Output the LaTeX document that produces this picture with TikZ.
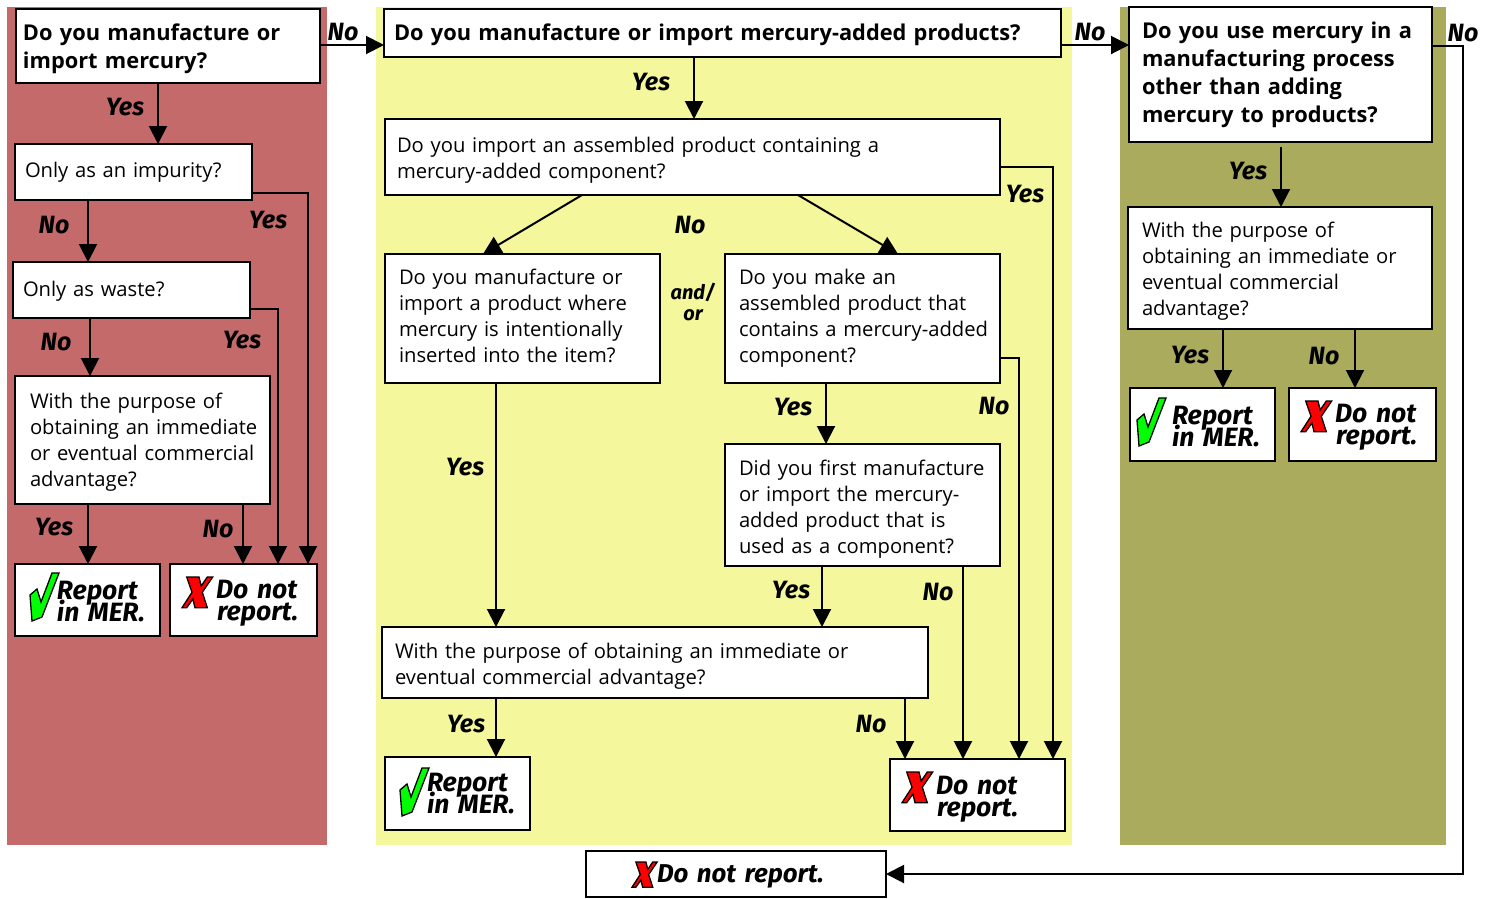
\documentclass[tikz,border=0pt]{standalone}
\usepackage{fontspec}
\usetikzlibrary{arrows.meta}
\setmainfont{Open Sans}
\newfontfamily\lblfont{Fira Sans}
\definecolor{redbg}{HTML}{C46A6A}
\definecolor{yelbg}{HTML}{F4F79B}
\definecolor{olvbg}{HTML}{ABAB5E}
\tikzset{
  x=1pt,y=-1pt,
  every node/.style={outer sep=0pt,inner ysep=0pt},
  boxn/.style={draw=black,line width=2.2pt,fill=white,align=left,font=\fontsize{20.2}{26}\selectfont\hyphenpenalty 10000\relax},
  head/.style={font=\fontsize{21.8}{28}\selectfont\bfseries\hyphenpenalty 10000\relax},
  rep/.style={font=\fontsize{26.5}{22}\lblfont\bfseries\itshape\lineskiplimit -100pt\relax},
  lbl/.style={font=\fontsize{25}{20}\lblfont\bfseries\itshape,align=center,inner sep=0pt,yshift=-1pt},
  arr/.style={line width=2pt,-{Triangle[width=18pt,length=18pt]}},
  xmark/.pic={\draw[fill=red,line width=1.3pt,line join=miter,draw=black]
    (4.7,0)--(17,0)--(19.2,9)--(25.3,0)--(30.7,0)--(20.3,15.3)--(25.3,30.7)--(13,30.7)--(10.9,22)--(4.7,30.7)--(0,30.7)--(10,15.3)--cycle;},
  cmark/.pic={\draw[fill=green,line width=1.3pt,draw=black]
    (15,31)--(22,25)--(26,38)--(37,9)--(44,9)--(27,53)--(17,57)--cycle;},
}
\newcommand{\bx}[8]{\node[boxn,#7,minimum width={(#4-#2)*1pt},minimum height={(#5-#3)*1pt},
  text width={(#4-#2)*1pt},inner xsep=0pt] (#1) at ({(#2+#4)/2},{(#3+#5)/2}) {\leftskip #6pt\relax #8\par};}
\newcommand{\upk}[1]{\par\kern #1pt\relax}
\newcommand{\rptxt}{\hspace*{42pt}Report\\\hspace*{42pt}in MER.}
\newcommand{\dntxt}{\hspace*{46pt}Do not\\\hspace*{47pt}report.}
\begin{document}
\begin{tikzpicture}
\useasboundingbox (0,0) rectangle (1489,898);
\fill[redbg] (7,7) rectangle (327,845);
\fill[yelbg] (376,7) rectangle (1072,845);
\fill[olvbg] (1120,7) rectangle (1446,845);
\foreach \v in {88,90,158,243,278,308,483,496,582,694,798,826,822,898,905,963,1019,1053,1223,1281,1355,1463}
  \coordinate (x\v) at (\v,0);
\foreach \v in {45,46,147,167,193,309,358,874}
  \coordinate (y\v) at (0,\v);
% left column
\bx{a1}{16}{9}{320}{83}{7}{head}{Do you manufacture or\\import mercury?\upk{-6}}
\bx{a2}{15}{144}{252}{200}{10}{}{Only as an impurity?}
\bx{a3}{13}{262}{250}{318}{10}{}{Only as waste?\upk{-2}}
\bx{a4}{15}{376}{270}{504}{15}{}{With the purpose of\\obtaining an immediate\\or eventual commercial\\advantage?\upk{-4}}
\bx{a5}{15}{564}{160}{636}{0}{rep}{\rptxt\upk{-4}}
\bx{a6}{170}{564}{317}{636}{0}{rep}{\dntxt\upk{-6}}
% middle column
\bx{b1}{384}{9}{1061}{57}{10}{head}{Do you manufacture or import mercury-added products?\upk{-4}}
\bx{b2}{385}{119}{1000}{195}{12}{}{Do you import an assembled product containing a\\mercury-added component?\upk{-6}}
\bx{b3}{385}{254}{660}{383}{14}{}{Do you manufacture or\\import a product where\\mercury is intentionally\\inserted into the item?\upk{6}}
\bx{b4}{725}{254}{1000}{383}{14}{}{Do you make an\\assembled product that\\contains a mercury-added\\component?}
\bx{b5}{725}{444}{1000}{566}{14}{}{Did you first manufacture\\or import the mercury-\\added product that is\\used as a component?\upk{-8}}
\bx{b6}{382}{627}{928}{698}{13}{}{With the purpose of obtaining an immediate or\\eventual commercial advantage?\upk{-8}}
\bx{b7}{385}{757}{530}{830}{0}{rep}{\rptxt}
\bx{b8}{890}{759}{1065}{831}{0}{rep}{\dntxt\upk{-8}}
% right column
\bx{c1}{1129}{7}{1432}{142}{13}{head}{Do you use mercury in a\\manufacturing process\\other than adding\\mercury to products?}
\bx{c2}{1128}{207}{1432}{329}{14}{}{With the purpose of\\obtaining an immediate or\\eventual commercial\\advantage?\upk{-6}}
\bx{c3}{1130}{388}{1275}{461}{0}{rep}{\rptxt\upk{-4}}
\bx{c4}{1289}{388}{1436}{461}{0}{rep}{\dntxt\upk{-6}}
\bx{d}{586}{851}{886}{897}{0}{rep,font=\fontsize{25.8}{22}\lblfont\bfseries\itshape}{\hspace*{71pt}Do not report.\upk{-4}}
% marks
\pic at (15,564) {cmark};
\pic at (385,759) {cmark};
\pic at (1122,389) {cmark};
\pic at (182,577) {xmark};
\pic at (902,772) {xmark};
\pic at (1301,401) {xmark};
\pic[scale=.82] at (632,862) {xmark};
% connectors
\draw[arr] (a1.south-|x158) -- (a2.north-|x158);
\draw[arr] (a2.south-|x88) -- (a3.north-|x88);
\draw[arr] (a3.south-|x90) -- (a4.north-|x90);
\draw[arr] (a4.south-|x88) -- (a5.north-|x88);
\draw[arr] (a4.south-|x243) -- (a6.north-|x243);
\draw[arr] (a3.east|-y309) -| (a6.north-|x278);
\draw[arr] (a2.east|-y193) -| (a6.north-|x308);
\draw[arr] (a1.east|-y45) -- (b1.west|-y45);
\draw[arr] (b1.east|-y45) -- (c1.west|-y45);
\draw[arr] (b1.south-|x694) -- (b2.north-|x694);
\draw[arr] (b2.south-|x582) -- (b3.north-|x483);
\draw[arr] (b2.south-|x798) -- (b4.north-|x898);
\draw[arr] (b2.east|-y167) -| (b8.north-|x1053);
\draw[arr] (b3.south-|x496) -- (b6.north-|x496);
\draw[arr] (b4.south-|x826) -- (b5.north-|x826);
\draw[arr] (b4.east|-y358) -| (b8.north-|x1019);
\draw[arr] (b5.south-|x822) -- (b6.north-|x822);
\draw[arr] (b5.south-|x963) -- (b8.north-|x963);
\draw[arr] (b6.south-|x496) -- (b7.north-|x496);
\draw[arr] (b6.south-|x905) -- (b8.north-|x905);
\draw[arr] (x1281|-y147) -- (c2.north-|x1281);
\draw[arr] (c2.south-|x1223) -- (c3.north-|x1223);
\draw[arr] (c2.south-|x1355) -- (c4.north-|x1355);
\draw[arr] (c1.east|-y46) -- (x1463|-y46) -- (x1463|-y874) -- (d.east|-y874);
% labels
\node[lbl] (l1) at (125,106) {Yes};
\node[lbl] (l2) at (54,224) {No};
\node[lbl] (l3) at (268,219) {Yes};
\node[lbl] (l4) at (242,339) {Yes};
\node[lbl] (l5) at (56,341) {No};
\node[lbl] (l6) at (54,526) {Yes};
\node[lbl] (l7) at (218,528) {No};
\node[lbl] (l8) at (343,31) {No};
\node[lbl] (l9) at (651,81) {Yes};
\node[lbl] (l10) at (690,224) {No};
\node[lbl,font=\fontsize{20}{21}\lblfont\bfseries\itshape] (l11) at (693,301) {and/\\or};
\node[lbl] (l12) at (1025,193) {Yes};
\node[lbl] (l13) at (465,466) {Yes};
\node[lbl] (l14) at (793,406) {Yes};
\node[lbl] (l15) at (994,405) {No};
\node[lbl] (l16) at (791,589) {Yes};
\node[lbl] (l17) at (938,591) {No};
\node[lbl] (l18) at (466,723) {Yes};
\node[lbl] (l19) at (871,723) {No};
\node[lbl] (l20) at (1090,31) {No};
\node[lbl] (l21) at (1248,170) {Yes};
\node[lbl] (l22) at (1463,32) {No};
\node[lbl] (l23) at (1190,354) {Yes};
\node[lbl] (l24) at (1324,355) {No};
\end{tikzpicture}
\end{document}
